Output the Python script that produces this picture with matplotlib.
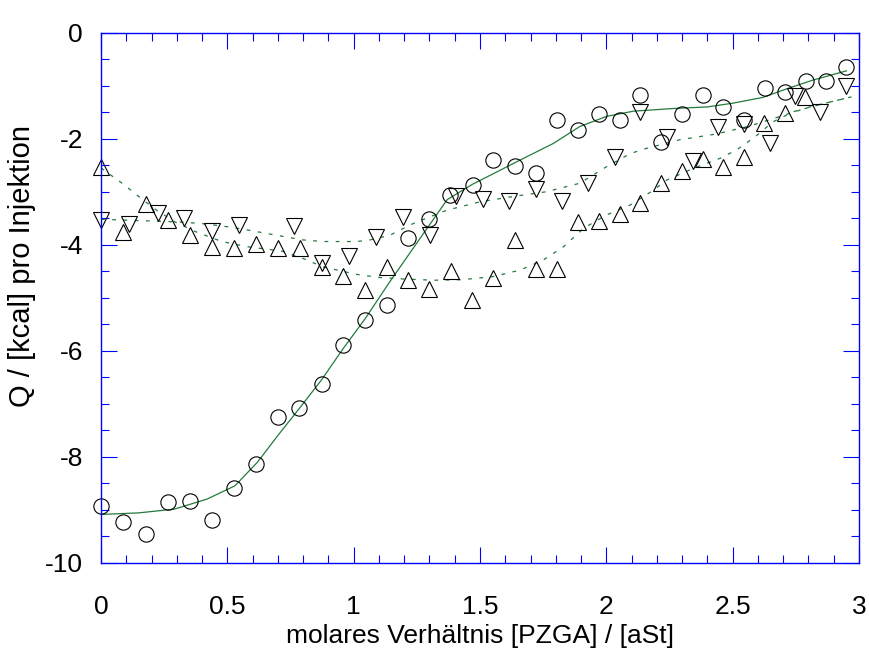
import numpy as np
import matplotlib
matplotlib.use("Agg")
import matplotlib.pyplot as plt
from matplotlib.ticker import MultipleLocator

plt.rcParams["font.family"] = ["Liberation Sans", "DejaVu Sans"]
FS = 19

BLUE = "#0000ff"
GREEN = "#237a3c"

# circles (o)
x_circ = [0, 0.088, 0.178, 0.265, 0.352, 0.439, 0.528, 0.613, 0.699, 0.785, 0.873, 0.959,
          1.045, 1.131, 1.216, 1.298, 1.381, 1.471, 1.553, 1.638, 1.721, 1.803, 1.888, 1.972,
          2.054, 2.135, 2.216, 2.30, 2.384, 2.463, 2.545, 2.628, 2.707, 2.789, 2.868, 2.95]
y_circ = [-8.93, -9.23, -9.46, -8.86, -8.84, -9.20, -8.60, -8.14, -7.26, -7.09, -6.62, -5.89,
          -5.43, -5.14, -3.88, -3.52, -3.06, -2.87, -2.41, -2.52, -2.64, -1.65, -1.84, -1.53,
          -1.65, -1.18, -2.07, -1.53, -1.18, -1.41, -1.65, -1.05, -1.11, -0.91, -0.92, -0.65]

# up triangles
x_up = [0, 0.088, 0.178, 0.264, 0.352, 0.44, 0.528, 0.613, 0.701, 0.787, 0.873, 0.959,
        1.045, 1.131, 1.216, 1.30, 1.384, 1.469, 1.553, 1.638, 1.721, 1.803, 1.886, 1.971,
        2.054, 2.135, 2.218, 2.30, 2.384, 2.463, 2.545, 2.625, 2.707, 2.786]
y_up = [-2.53, -3.76, -3.24, -3.54, -3.81, -4.04, -4.07, -3.99, -4.06, -4.07, -4.43, -4.59,
        -4.85, -4.42, -4.67, -4.84, -4.49, -5.05, -4.62, -3.92, -4.46, -4.46, -3.58, -3.55,
        -3.42, -3.22, -2.83, -2.61, -2.39, -2.53, -2.34, -1.71, -1.52, -1.22]

# down triangles
x_dn = [0, 0.112, 0.224, 0.33, 0.44, 0.547, 0.765, 0.873, 0.981, 1.088, 1.194, 1.302,
        1.405, 1.51, 1.616, 1.721, 1.826, 1.929, 2.034, 2.135, 2.239, 2.344, 2.443, 2.545,
        2.648, 2.746, 2.845, 2.947]
y_dn = [-3.54, -3.61, -3.41, -3.50, -3.75, -3.63, -3.64, -4.35, -4.22, -3.86, -3.47, -3.81,
        -3.09, -3.14, -3.18, -2.94, -3.17, -2.83, -2.34, -1.49, -1.96, -2.42, -1.77, -1.72,
        -2.09, -1.20, -1.49, -1.00]

# fit curves
fit_x = [0, 0.15, 0.29, 0.42, 0.53, 0.62, 0.70, 0.785, 0.873, 0.96, 1.045, 1.14, 1.26,
         1.37, 1.47, 1.66, 1.79, 1.895, 2.0, 2.107, 2.265, 2.40, 2.50, 2.62, 2.713, 2.82, 2.95]
fit_y = [-9.09, -9.06, -8.99, -8.80, -8.55, -8.10, -7.60, -7.09, -6.55, -5.95, -5.40, -4.72,
         -3.90, -3.15, -2.86, -2.40, -2.09, -1.77, -1.58, -1.48, -1.43, -1.40, -1.33, -1.22,
         -1.06, -0.89, -0.72]

fup_x = [0, 0.04, 0.095, 0.141, 0.22, 0.293, 0.372, 0.478, 0.583, 0.715, 0.80, 0.88, 1.012,
         1.104, 1.21, 1.32, 1.43, 1.553, 1.658, 1.75, 1.83, 1.91, 2.0, 2.095, 2.187, 2.239,
         2.344, 2.45, 2.516, 2.59, 2.66, 2.74, 2.85, 2.97]
fup_y = [-2.55, -2.69, -2.88, -3.06, -3.35, -3.57, -3.75, -3.94, -4.04, -4.12, -4.26, -4.42,
         -4.56, -4.62, -4.65, -4.67, -4.66, -4.60, -4.48, -4.29, -4.04, -3.69, -3.44, -3.25,
         -2.97, -2.78, -2.56, -2.37, -2.21, -1.96, -1.68, -1.49, -1.35, -1.21]

fdn_x = [0, 0.18, 0.306, 0.398, 0.517, 0.636, 0.728, 0.80, 0.88, 1.012, 1.065, 1.144, 1.236,
         1.368, 1.50, 1.632, 1.763, 1.895, 2.0, 2.095, 2.16, 2.29, 2.436, 2.568, 2.687, 2.806,
         2.97]
fdn_y = [-3.52, -3.55, -3.57, -3.60, -3.67, -3.77, -3.85, -3.91, -3.94, -3.94, -3.91, -3.82,
         -3.60, -3.35, -3.19, -3.09, -3.00, -2.84, -2.53, -2.28, -2.18, -2.02, -1.91, -1.76,
         -1.58, -1.40, -1.21]

fig = plt.figure(figsize=(8.69, 6.52), dpi=100)
ax = fig.add_axes([0.1162, 0.137, 0.8723, 0.8128])

ax.plot(fit_x, fit_y, color=GREEN, lw=0.9)
ax.plot(fup_x, fup_y, color=GREEN, lw=0.9, linestyle=(0, (3, 6)))
ax.plot(fdn_x, fdn_y, color=GREEN, lw=0.9, linestyle=(0, (3, 6)))

mk = dict(ls="none", mfc="none", mec="black", mew=0.8, ms=11, clip_on=False)
ax.plot(x_circ, y_circ, marker="o", **mk)
ax.plot(x_up, y_up, marker="^", **mk)
ax.plot(x_dn, y_dn, marker="v", **mk)

ax.set_xlim(0, 3)
ax.set_ylim(-10, 0)
ax.xaxis.set_major_locator(MultipleLocator(0.5))
ax.xaxis.set_minor_locator(MultipleLocator(0.1))
ax.yaxis.set_major_locator(MultipleLocator(2))
ax.yaxis.set_minor_locator(MultipleLocator(0.5))
ax.xaxis.set_major_formatter(plt.FuncFormatter(lambda v, p: f"{v:g}"))
ax.yaxis.set_major_formatter(plt.FuncFormatter(lambda v, p: f"{v:g}"))

for s in ax.spines.values():
    s.set_color(BLUE)
    s.set_linewidth(1.0)
ax.tick_params(which="both", direction="in", top=True, right=True, color=BLUE,
               width=0.8, labelsize=FS)
ax.tick_params(which="major", length=11.5)
ax.tick_params(which="minor", length=5.8)
ax.tick_params(axis="x", pad=23)
ax.tick_params(axis="y", pad=13)

ax.set_xlabel("molares Verhältnis [PZGA] / [aSt]", fontsize=FS, labelpad=4)
ax.set_ylabel("Q / [kcal] pro Injektion", fontsize=21)
ax.yaxis.set_label_coords(-0.086, 0.56)

fig.savefig("out.png", dpi=100)
